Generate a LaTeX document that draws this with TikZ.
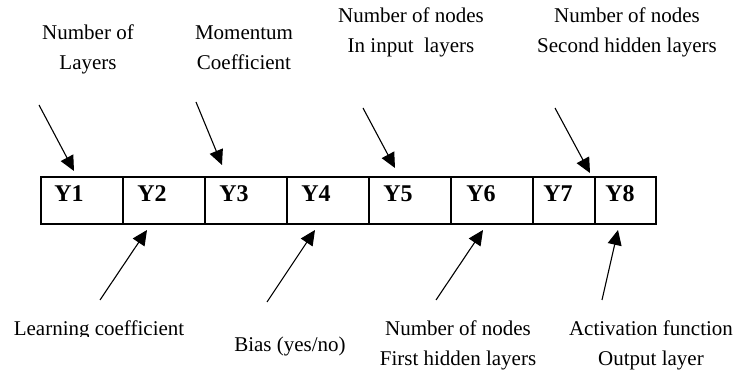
\documentclass[tikz,border=0pt]{standalone}
\usepackage{fontspec}
\setmainfont{Liberation Serif}
\usetikzlibrary{arrows.meta}
\begin{document}
\begin{tikzpicture}[x=1pt,y=-1pt,
  cell/.style={draw, line width=1.6pt, minimum height=47pt, inner sep=0pt, anchor=north west},
  ylab/.style={font=\fontsize{24}{24}\selectfont\bfseries, inner sep=0pt, anchor=base},
  desc/.style={font=\fontsize{21}{30}\selectfont, align=center, inner sep=0pt, anchor=base},
  pointer/.style={line width=1.1pt, -{Triangle[length=15pt,width=14pt]}, shorten >=0pt}]
\useasboundingbox (0,0) rectangle (753,374);
% cells
\node[cell, minimum width=82pt] (c1) at (40,176) {};
\node[cell, minimum width=82pt] (c2) at (122,176) {};
\node[cell, minimum width=82pt] (c3) at (204,176) {};
\node[cell, minimum width=82pt] (c4) at (286,176) {};
\node[cell, minimum width=82pt] (c5) at (368,176) {};
\node[cell, minimum width=82pt] (c6) at (450,176) {};
\node[cell, minimum width=62pt] (c7) at (532,176) {};
\node[cell, minimum width=61pt] (c8) at (594,176) {};
% cell labels
\node[ylab] (y1) at (69,202) {Y1};
\node[ylab] (y2) at (152,202) {Y2};
\node[ylab] (y3) at (234,202) {Y3};
\node[ylab] (y4) at (316,202) {Y4};
\node[ylab] (y5) at (398,202) {Y5};
\node[ylab] (y6) at (481,202) {Y6};
\node[ylab] (y7) at (558,202) {Y7};
\node[ylab] (y8) at (620,202) {Y8};
% top descriptions (anchor = baseline of last line)
\node[desc] (t1) at (88,70) {Number of\\Layers};
\node[desc] (t2) at (244,70) {Momentum\\Coefficient};
\node[desc] (t3) at (411,53) {Number of nodes\\In input\ \ layers};
\node[desc] (t4) at (627,53) {Number of nodes\\Second hidden layers};
% bottom descriptions
\begin{scope}
\clip (0,0) rectangle (753,337);
\node[desc] (b1) at (99,335) {Learning coefficient};
\end{scope}
\node[desc] (b2) at (290,352) {Bias (yes/no)};
\node[desc] (b3) at (458,365) {Number of nodes\\First hidden layers};
\node[desc] (b4) at (651,365) {Activation function\\Output layer};
% arrow end points
\coordinate (s1) at (39,105);  \coordinate (e1) at (74,171);
\coordinate (s2) at (196,102); \coordinate (e2) at (222,165);
\coordinate (s3) at (363,108); \coordinate (e3) at (395,168);
\coordinate (s4) at (555,108); \coordinate (e4) at (590,173);
\coordinate (s5) at (100,300); \coordinate (e5) at (147,230);
\coordinate (s6) at (267,302); \coordinate (e6) at (315,230);
\coordinate (s7) at (436,300); \coordinate (e7) at (483,230);
\coordinate (s8) at (602,300); \coordinate (e8) at (618,230);
\foreach \i in {1,...,8} { \draw[pointer] (s\i) -- (e\i); }
\end{tikzpicture}
\end{document}
